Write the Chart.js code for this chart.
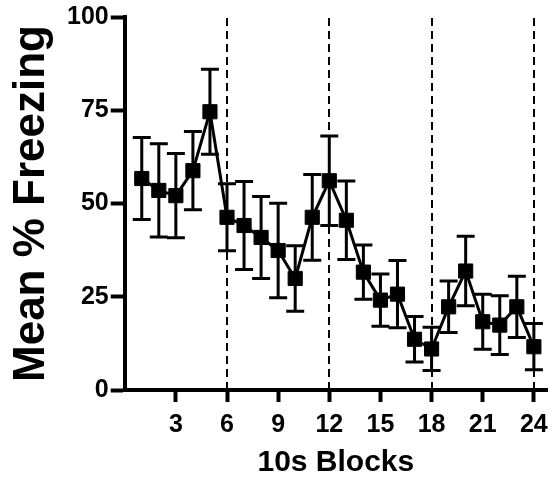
<!DOCTYPE html>
<html>
<head>
<meta charset="utf-8">
<script src="https://cdn.jsdelivr.net/npm/chart.js@4.4.1/dist/chart.umd.min.js"></script>
<style>
    html, body { margin: 0; padding: 0; background: #fff; }
    #wrap { width: 558px; height: 478px; }
</style>
</head>
<body>
<div id="wrap"><canvas id="chart" width="558" height="478"></canvas></div>
<script>
const blocks = [1, 2, 3, 4, 5, 6, 7, 8, 9, 10, 11, 12, 13, 14, 15, 16, 17, 18, 19, 20, 21, 22, 23, 24];
const meanFreezing = [56.7, 53.5, 52.1, 58.8, 74.6, 46.3, 44.1, 40.9, 37.4, 29.9, 46.3, 56.1,
                      45.5, 31.6, 24.1, 25.7, 13.6, 11.0, 22.3, 31.9, 18.3, 17.4, 22.3, 11.6];
const semFreezing = [11.0, 12.5, 11.3, 10.5, 11.4, 9.0, 11.8, 11.0, 12.7, 8.8, 11.5, 12.0,
                     10.5, 7.3, 7.0, 9.0, 6.1, 5.8, 6.9, 9.3, 7.4, 7.9, 8.2, 6.2];
const xTickValues = [3, 6, 9, 12, 15, 18, 21, 24];
const yTickValues = [0, 25, 50, 75, 100];
const sessionBreaks = [6, 12, 18, 24];

const FONT = '"Liberation Sans", Arial, Helvetica, sans-serif';

// barras de error (media ± SEM)
const errorBars = {
    id: 'errorBars',
    beforeDatasetsDraw(chart) {
        const { ctx, scales: { x, y } } = chart;
        ctx.save();
        ctx.strokeStyle = '#000';
        ctx.lineWidth = 3;
        blocks.forEach((b, i) => {
            const px = x.getPixelForValue(b);
            const top = y.getPixelForValue(meanFreezing[i] + semFreezing[i]);
            const bottom = y.getPixelForValue(meanFreezing[i] - semFreezing[i]);
            ctx.beginPath();
            ctx.moveTo(px, top);
            ctx.lineTo(px, bottom);
            ctx.moveTo(px - 9, top);
            ctx.lineTo(px + 9, top);
            ctx.moveTo(px - 9, bottom);
            ctx.lineTo(px + 9, bottom);
            ctx.stroke();
        });
        ctx.restore();
    }
};

// líneas discontinuas entre sesiones
const breakLines = {
    id: 'breakLines',
    beforeDatasetsDraw(chart) {
        const { ctx, chartArea, scales: { x } } = chart;
        ctx.save();
        ctx.strokeStyle = '#000';
        ctx.lineWidth = 2;
        ctx.setLineDash([8, 5]);
        sessionBreaks.forEach(b => {
            const px = Math.round(x.getPixelForValue(b));
            ctx.beginPath();
            ctx.moveTo(px, chartArea.top + 1);
            ctx.lineTo(px, chartArea.bottom);
            ctx.stroke();
        });
        ctx.restore();
    }
};

const ctx = document.getElementById('chart').getContext('2d');

new Chart(ctx, {
    type: 'line',
    data: {
        datasets: [{
            label: 'Freezing',
            data: blocks.map((b, i) => ({ x: b, y: meanFreezing[i] })),
            borderColor: '#000',
            backgroundColor: '#000',
            borderWidth: 3,
            pointStyle: 'rect',
            pointRadius: 10,
            pointBorderWidth: 1,
            tension: 0,
        }],
    },
    options: {
        responsive: false,
        animation: false,
        layout: { padding: { top: 1, right: 0, left: 0, bottom: 0 } },
        scales: {
            x: {
                type: 'linear',
                min: 0,
                max: 24.77,
                afterBuildTicks: scale => { scale.ticks = xTickValues.map(v => ({ value: v })); },
                border: { display: true, color: '#000', width: 4 },
                grid: { drawOnChartArea: false, drawTicks: true, tickLength: 12, tickWidth: 4, tickColor: '#000' },
                ticks: {
                    color: '#000',
                    padding: 8,
                    maxRotation: 0,
                    font: { family: FONT, size: 25, weight: 'bold' },
                },
                title: {
                    display: true,
                    text: '10s Blocks',
                    color: '#000',
                    padding: { top: 0, bottom: 0 },
                    font: { family: FONT, size: 30, weight: 'bold', lineHeight: 1 },
                },
            },
            y: {
                min: 0,
                max: 100,
                afterBuildTicks: scale => { scale.ticks = yTickValues.map(v => ({ value: v })); },
                border: { display: true, color: '#000', width: 4 },
                grid: { drawOnChartArea: false, drawTicks: true, tickLength: 14, tickWidth: 4, tickColor: '#000' },
                ticks: {
                    color: '#000',
                    padding: 2,
                    font: { family: FONT, size: 25, weight: 'bold' },
                },
                title: {
                    display: true,
                    text: 'Mean % Freezing',
                    color: '#000',
                    padding: { top: 10, bottom: 11 },
                    font: { family: FONT, size: 44, weight: 'bold', lineHeight: 1 },
                },
            },
        },
        plugins: {
            legend: { display: false },
            tooltip: { enabled: false },
        },
    },
    plugins: [errorBars, breakLines],
});
</script>
</body>
</html>
